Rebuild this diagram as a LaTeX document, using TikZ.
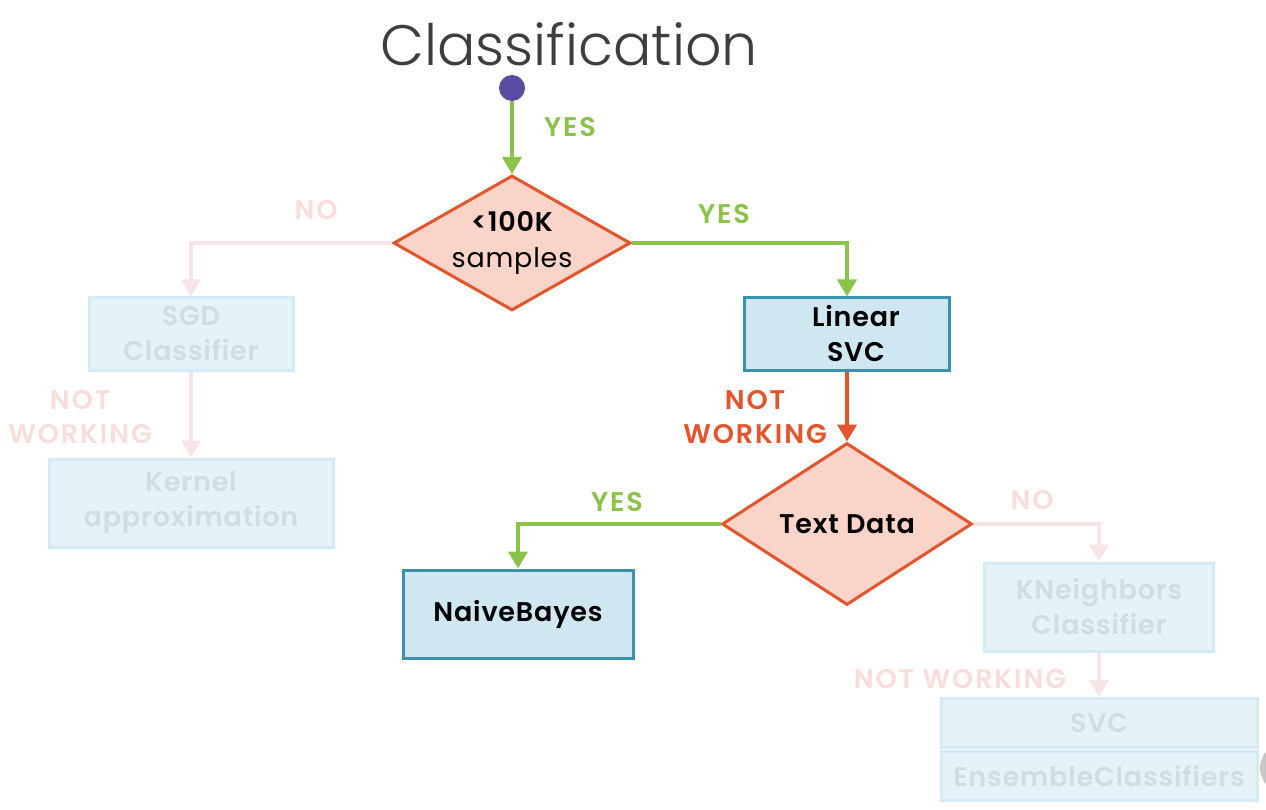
\documentclass[tikz,border=0pt]{standalone}
\usepackage{fontspec}
\setmainfont{Poppins}[BoldFont={Poppins SemiBold}]
\newfontfamily\titlefont{Poppins Light}
\newfontfamily\labfont{Poppins SemiBold}[LetterSpace=7]
\newfontfamily\boxfont{Poppins SemiBold}[LetterSpace=3]
\newfontfamily\plainfont{Poppins}[LetterSpace=3]
\usetikzlibrary{arrows.meta,shapes.geometric,positioning}
\definecolor{grn}{RGB}{139,194,74}
\definecolor{rd}{RGB}{226,85,45}
\definecolor{dfill}{RGB}{250,212,200}
\definecolor{bfill}{RGB}{206,231,240}
\definecolor{bdraw}{RGB}{58,146,171}
\definecolor{ffill}{RGB}{229,243,249}
\definecolor{fdraw}{RGB}{212,235,245}
\definecolor{ftext}{RGB}{208,221,227}
\definecolor{fline}{RGB}{246,228,230}
\definecolor{flab}{RGB}{248,221,219}
\definecolor{purp}{RGB}{88,75,160}
\definecolor{ttl}{RGB}{62,62,62}
\tikzset{
  tip/.style={-{Triangle[width=19pt,length=17pt]}},
  ln/.style={line width=4pt},
  dec/.style={diamond, draw=rd, fill=dfill, line width=3pt, inner sep=0pt, font=\plainfont\fontsize{27}{36}\selectfont},
  box/.style={draw=bdraw, fill=bfill, line width=3pt, font=\boxfont\fontsize{27}{35}\selectfont, align=center, inner sep=0pt},
  fbox/.style={draw=fdraw, fill=ffill, line width=3pt, font=\boxfont\fontsize{27}{35}\selectfont, text=ftext, align=center, inner sep=0pt},
  lab/.style={font=\labfont\fontsize{27}{34}\selectfont, align=center, inner sep=0pt},
}
\begin{document}
\begin{tikzpicture}[x=1pt,y=-1pt]
\useasboundingbox (0,0) rectangle (1266,810);
\fill[white] (0,0) rectangle (1266,810);
% title
\node[text=ttl, font=\titlefont\fontsize{57}{66}\selectfont] (title) at (569,44) {Classification};
% start
\node[circle, fill=purp, minimum size=26pt, inner sep=0pt] (start) at (512,88) {};
% decisions
\node[dec, aspect=1.755, minimum width=237pt, minimum height=135pt, align=center] (d1) at (512,243) {{\boxfont <100K}\\samples};
\node[dec, aspect=1.54, minimum width=250pt, minimum height=162pt, font=\boxfont\fontsize{27}{35}\selectfont] (d2) at (847,524) {Text Data};
% main boxes
\node[box, minimum width=205pt, minimum height=72pt] (lsvc) at (847,334) {\hspace*{18pt}Linear\\\hspace*{18pt}SVC};
\node[box, minimum width=230pt, minimum height=88pt] (nb) at (518,614) {NaiveBayes};
% faded boxes
\node[fbox, minimum width=204pt, minimum height=72pt] (sgd) at (191,334) {SGD\\Classifier};
\node[fbox, minimum width=284pt, minimum height=88pt] (ker) at (191,503) {Kernel\\approximation};
\node[fbox, minimum width=229pt, minimum height=88pt] (kn) at (1099,607) {KNeighbors\\Classifier};
\node[fbox, minimum width=316pt, minimum height=49pt] (svc) at (1099,723) {SVC};
\node[fbox, minimum width=316pt, minimum height=49pt] (ens) at (1099,776) {EnsembleClassifiers};
% faded connectors
\draw[ln, color=fline, tip] (d1.west) -| (sgd.north);
\draw[ln, color=fline, tip] (sgd.south) -- (ker.north);
\draw[ln, color=fline, tip] (d2.east) -| (kn.north);
\draw[ln, color=fline, tip] (kn.south) -- (svc.north);
% faded labels
\node[lab, text=flab] (no1) at (316,210) {NO};
\node[lab, text=flab] (nw1) at (80,417) {NOT\\WORKING};
\node[lab, text=flab] (no2) at (1032,500) {NO};
\node[lab, text=flab] (nw3) at (960,679) {NOT WORKING};
% main connectors
\draw[ln, color=grn, tip] (start) -- (d1.north);
\draw[ln, color=grn, tip] (d1.east) -| (lsvc.north);
\draw[ln, color=rd, tip] (lsvc.south) -- (d2.north);
\draw[ln, color=grn, tip] (d2.west) -| (nb.north);
% main labels
\node[lab, text=grn] (y1) at (570,127) {YES};
\node[lab, text=grn] (y2) at (724,214) {YES};
\node[lab, text=grn] (y3) at (617,502) {YES};
\node[lab, text=rd] (nw2) at (755,417) {NOT\\WORKING};
% edge artifact
\begin{scope}
\clip (0,0) rectangle (1266,810);
\fill[gray!45] (1285,768) circle (25pt);
\end{scope}
\end{tikzpicture}
\end{document}
